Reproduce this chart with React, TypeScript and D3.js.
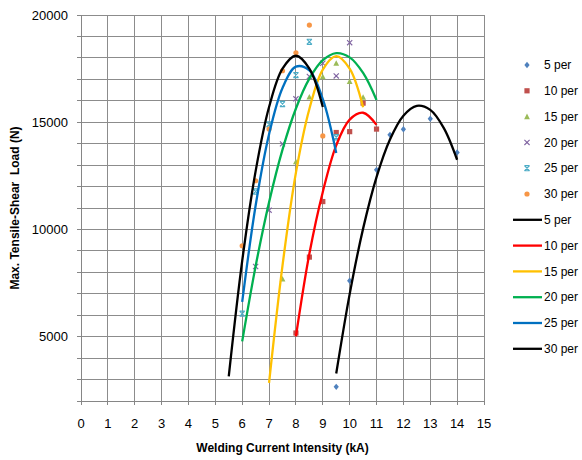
import React from 'react';
import * as d3 from 'd3';

// measured points, [current kA, load N]
const names = ['5 per', '10 per', '15 per', '20 per', '25 per', '30 per'];

const pts5 = [[9.5, 2660], [10, 7610], [11, 12780], [11.5, 14410], [12, 14670], [13, 15160], [14, 13590]];
const pts10 = [[8, 5170], [8.5, 8710], [9, 11300], [9.5, 14520], [10, 14560], [10.5, 15890], [11, 14680]];
const pts15 = [[7.5, 7690], [8, 13160], [8.5, 16180], [9, 17120], [9.5, 17750], [10, 16900], [10.5, 16170]];
const pts20 = [[6.5, 8270], [7, 10900], [7.5, 13990], [8, 16090], [8.5, 17130], [9, 17750], [9.5, 17160], [10, 18710]];
const pts25 = [[6, 6070], [6.5, 11770], [7, 14900], [7.5, 15850], [8, 17200], [8.5, 18750], [9.5, 14300]];
const pts30 = [[6, 9240], [6.5, 12270], [7, 14680], [7.5, 17400], [8, 18240], [8.5, 19530], [9, 14360]];

// fitted curves
const fit5 = [[9.5, 3280], [10, 6983], [10.5, 10038], [11, 12443], [11.5, 14199], [12, 15307], [12.5, 15766], [13, 15576], [13.5, 14738], [14, 13250]];
const fit10 = [[8, 5015], [8.5, 8868], [9, 11750], [9.5, 13923], [10, 15124], [10.5, 15442], [11, 14876]];
const fit15 = [[7, 2845], [7.5, 8314], [8, 12650], [8.5, 15618], [9, 17454], [9.5, 18080], [10, 17495], [10.5, 15700]];
const fit20 = [[6, 4780], [6.5, 8290], [7, 11269], [7.5, 13720], [8, 15641], [8.5, 17031], [9, 17892], [9.5, 18224], [10, 18025], [10.5, 17298], [11, 16040]];
const fit25 = [[6, 6620], [6.5, 11116], [7, 14443], [7.5, 16600], [8, 17592], [8.5, 17415], [9, 16072], [9.5, 13560]];
const fit30 = [[5.5, 3150], [6, 8530], [6.5, 12720], [7, 15710], [7.5, 17500], [8, 18100], [8.5, 17500], [9, 15710]];

const xTicks = d3.range(0, 16);
const yGrid = d3.range(3000, 20001, 1000);
const yLabels = [5000, 10000, 15000, 20000];

const markerColors = ['#4F81BD', '#C0504D', '#9BBB59', '#8064A2', '#4BACC6', '#F79646'];
const lineColors = ['#000000', '#FF0000', '#FFC000', '#00B050', '#0070C0', '#000000'];

const W = 582;
const H = 460;
const FONT = '"Liberation Sans", Arial, sans-serif';

const x = d3.scaleLinear().domain([0, 15]).range([81, 484]);
const y = d3.scaleLinear().domain([2000, 20000]).range([401, 15]);

function Marker({ kind, cx, cy, color }) {
    const s = 2.6;
    if (kind === 0) {
        return <path d={`M${cx},${cy - s - 0.6}L${cx + s},${cy}L${cx},${cy + s + 0.6}L${cx - s},${cy}Z`} fill={color} />;
    }
    if (kind === 1) {
        return <rect x={cx - s} y={cy - s} width={s * 2} height={s * 2} fill={color} />;
    }
    if (kind === 2) {
        return <path d={`M${cx},${cy - s - 0.4}L${cx + s + 0.3},${cy + s}L${cx - s - 0.3},${cy + s}Z`} fill={color} />;
    }
    if (kind === 3) {
        return <path d={`M${cx - s},${cy - s}L${cx + s},${cy + s}M${cx + s},${cy - s}L${cx - s},${cy + s}`} stroke={color} strokeWidth={1.1} fill="none" />;
    }
    if (kind === 4) {
        return <path d={`M${cx - s},${cy - s}L${cx + s},${cy + s}M${cx + s},${cy - s}L${cx - s},${cy + s}M${cx - s},${cy - s}L${cx + s},${cy - s}M${cx - s},${cy + s}L${cx + s},${cy + s}`} stroke={color} strokeWidth={1.1} fill="none" />;
    }
    return <circle cx={cx} cy={cy} r={s} fill={color} />;
}

export default function App() {
    const points = [pts5, pts10, pts15, pts20, pts25, pts30];
    const fits = [fit5, fit10, fit15, fit20, fit25, fit30];

    const line = d3.line()
        .x(d => x(d[0]))
        .y(d => y(d[1]))
        .curve(d3.curveCatmullRom.alpha(0.5));

    const legendY = i => 65 + i * 25.8;

    return (
        <svg width={W} height={H} style={{ position: 'absolute', left: 0, top: 0, background: '#fff' }} fontFamily={FONT}>
            {/* grid */}
            {yGrid.map(v => (
                <line key={'gy' + v} x1={x(0)} x2={x(15)} y1={y(v)} y2={y(v)} stroke="#8c8c8c" strokeWidth={1} shapeRendering="crispEdges" />
            ))}
            {xTicks.map(v => (
                <line key={'gx' + v} x1={x(v)} x2={x(v)} y1={y(20000)} y2={y(2000)} stroke="#8c8c8c" strokeWidth={1} shapeRendering="crispEdges" />
            ))}
            {/* axes */}
            <line x1={x(0)} x2={x(0)} y1={y(20000)} y2={y(2000)} stroke="#868686" shapeRendering="crispEdges" />
            <line x1={x(0)} x2={x(15)} y1={y(2000)} y2={y(2000)} stroke="#868686" shapeRendering="crispEdges" />
            {[2000, ...yGrid].map(v => (
                <line key={'ty' + v} x1={x(0) - 4} x2={x(0)} y1={y(v)} y2={y(v)} stroke="#868686" shapeRendering="crispEdges" />
            ))}
            {xTicks.map(v => (
                <line key={'tx' + v} x1={x(v)} x2={x(v)} y1={y(2000)} y2={y(2000) + 4} stroke="#868686" shapeRendering="crispEdges" />
            ))}
            {yLabels.map(v => (
                <text key={'ly' + v} x={68} y={y(v)} dy="0.35em" textAnchor="end" fontSize={13} fill="#000">{v}</text>
            ))}
            {xTicks.map(v => (
                <text key={'lx' + v} x={x(v)} y={428} textAnchor="middle" fontSize={13} fill="#000">{v}</text>
            ))}
            <text x={(x(0) + x(15)) / 2} y={452} textAnchor="middle" fontSize={12} fontWeight="bold" fill="#000">Welding Current Intensity  (kA)</text>
            <text transform={`translate(19,${(y(2000) + y(20000)) / 2}) rotate(-90)`} textAnchor="middle" fontSize={12} fontWeight="bold" fill="#000" xmlSpace="preserve">Max. Tensile-Shear  Load (N)</text>

            {/* markers */}
            {points.map((ps, i) => (
                <g key={'m' + i}>
                    {ps.map((p, j) => <Marker key={j} kind={i} cx={x(p[0])} cy={y(p[1])} color={markerColors[i]} />)}
                </g>
            ))}
            {/* fitted curves */}
            {fits.map((f, i) => (
                <path key={'f' + i} d={line(f)} fill="none" stroke={lineColors[i]} strokeWidth={2.3} />
            ))}

            {/* legend */}
            {names.map((n, i) => (
                <g key={'lg' + i}>
                    <Marker kind={i} cx={527} cy={legendY(i)} color={markerColors[i]} />
                    <text x={544} y={legendY(i)} dy="0.35em" fontSize={12} fill="#000">{n}</text>
                </g>
            ))}
            {names.map((n, i) => (
                <g key={'ll' + i}>
                    <line x1={513} x2={542} y1={legendY(i + 6)} y2={legendY(i + 6)} stroke={lineColors[i]} strokeWidth={2.3} />
                    <text x={544} y={legendY(i + 6)} dy="0.35em" fontSize={12} fill="#000">{n}</text>
                </g>
            ))}
        </svg>
    );
}
